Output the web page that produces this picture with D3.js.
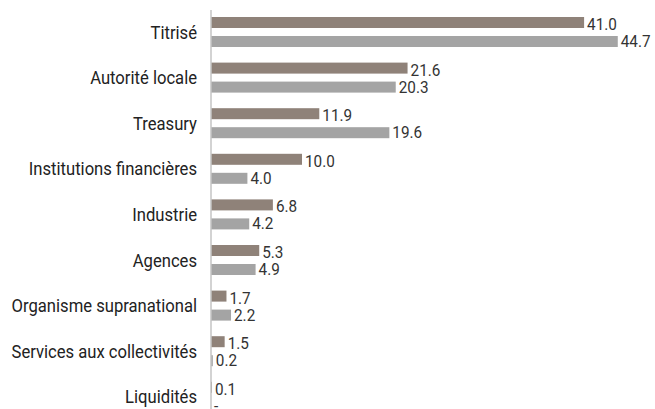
<!DOCTYPE html>
<html lang="fr">
    <head>
        <meta charset="utf-8">
        <title>Exposition par secteur</title>
        <script type="text/javascript" src="https://d3js.org/d3.v7.min.js"></script>
        <style type="text/css">
          body { margin: 0; background: #fff; }
          text { font-family: "Liberation Sans Narrow", "Arial Narrow", "Roboto", sans-serif; }
        </style>
    </head>
    <body>
        <svg width="655" height="409"></svg>
        <script type="text/javascript">

            const svg = d3.select("svg");
            const w = 655;
            const h = 409;

            // data
            const categories = ["Titrisé", "Autorité locale", "Treasury", "Institutions financières",
                                "Industrie", "Agences", "Organisme supranational",
                                "Services aux collectivités", "Liquidités"];
            const seriesA = [41.0, 21.6, 11.9, 10.0, 6.8, 5.3, 1.7, 1.5, 0.1];
            const seriesB = [44.7, 20.3, 19.6, 4.0, 4.2, 4.9, 2.2, 0.2, null];
            const seriesColors = ["#8f8279", "#a4a4a4"];

            const x0 = 211;
            const x = d3.scaleLinear().domain([0, 45]).range([x0, x0 + 45 * 9.1]);
            const y = d3.scaleBand().domain(categories).range([9.2, 419.6]).padding(0);
            const ySub = d3.scaleBand().domain([0, 1]).range([7.8, 37.8]).paddingInner(8 / 19);
            const labelShift = [1.5, -0.5];

            // narrow look: squeeze the text horizontally
            const squeeze = 0.9;

            // title, almost all of it above the top edge
            svg.append("text")
               .attr("x", 83).attr("y", -4)
               .attr("textLength", 56)
               .attr("lengthAdjust", "spacingAndGlyphs")
               .style("font-size", "19px").style("fill", "#222")
               .text("(en % du total)");

            const rows = categories.map((c, i) => ({cat: c, vals: [seriesA[i], seriesB[i]]}));

            const groups = svg.selectAll("g.row")
                              .data(rows)
                              .join("g")
                              .attr("class", "row")
                              .attr("transform", d => `translate(0,${y(d.cat)})`);

            // bars
            groups.selectAll("rect")
                  .data(d => d.vals.map((v, k) => ({v, k})))
                  .join("rect")
                  .attr("x", x(0))
                  .attr("y", d => ySub(d.k))
                  .attr("width", d => d.v == null ? 0 : x(d.v) - x(0))
                  .attr("height", ySub.bandwidth())
                  .style("fill", d => seriesColors[d.k]);

            // value labels
            groups.selectAll("text.val")
                  .data(d => d.vals.map((v, k) => ({v, k})))
                  .join("text")
                  .attr("class", "val")
                  .attr("transform", d => `translate(${(d.v == null ? x(0) : x(d.v)) + 3},${ySub(d.k) + ySub.bandwidth() / 2 + labelShift[d.k]}) scale(${squeeze},1)`)
                  .attr("dy", "0.35em")
                  .style("font-size", "17px")
                  .style("fill", "#333")
                  .text(d => d.v == null ? "-" : d3.format(".1f")(d.v));

            // category labels
            groups.append("text")
                  .attr("transform", `translate(197,${y.bandwidth() / 2}) scale(0.875,1)`)
                  .attr("dy", "0.35em")
                  .attr("text-anchor", "end")
                  .style("font-size", "19px")
                  .style("fill", "#222")
                  .text(d => d.cat);

            // vertical axis line
            svg.append("line")
               .attr("x1", x(0)).attr("x2", x(0))
               .attr("y1", 10).attr("y2", h)
               .style("stroke", "#c4c4c4")
               .style("stroke-width", 1.5);

        </script>
    </body>
</html>
